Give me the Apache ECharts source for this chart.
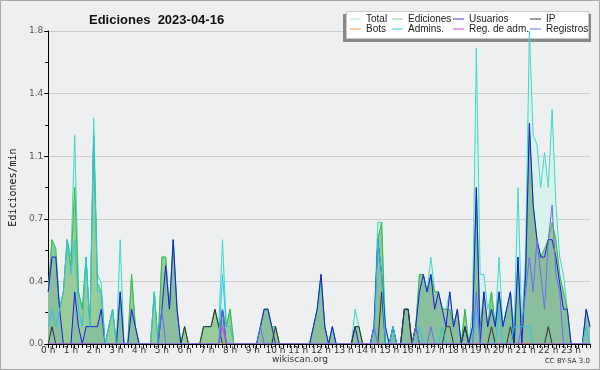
<!DOCTYPE html>
<html>
<head>
<meta charset="utf-8">
<script src="https://cdn.jsdelivr.net/npm/echarts@6/dist/echarts.min.js"></script>
<style>
html, body { margin: 0; padding: 0; background: #eeeff1; }
#ct1 { width: 600px; height: 370px; }
</style>
</head>
<body>
<div id="ct1"></div>
<script>
// etiquetas del eje x (una por hora, 6 tramos de 10 min por hora)
var hours = ['0 h','1 h','2 h','3 h','4 h','5 h','6 h','7 h','8 h','9 h','10 h','11 h',
             '12 h','13 h','14 h','15 h','16 h','17 h','18 h','19 h','20 h','21 h','22 h','23 h'];
var yTicks = [0, 0.36, 0.72, 1.08, 1.44, 1.8];

// ediciones/min por tramo de 10 min
var total = [
    0.3,0.6,0.5,0.2,0.3,0.6, 0.5,1.2,0.3,0.2,0.5,0.1,
    1.3,0.4,0.35,0,0.1,0.2, 0,0.6,0,0,0.4,0.1,
    0,0,0,0,0.3,0, 0.5,0.5,0.2,0.6,0.2,0,
    0.1,0,0,0,0,0.1, 0.1,0.1,0.2,0.1,0.6,0.1,
    0.2,0,0,0,0,0, 0,0,0.1,0.2,0.2,0.1,
    0.1,0,0,0,0,0, 0,0,0,0,0.1,0.2,
    0.4,0.1,0,0.1,0,0, 0,0,0,0.2,0.1,0,
    0,0,0.1,0.7,0.7,0.1, 0,0.1,0,0,0.2,0.2,
    0,0.1,0.4,0.4,0.3,0.5, 0.3,0.3,0.2,0.2,0.3,0.1,
    0.2,0,0.2,0,0.2,1.7, 0.4,0.4,0.2,0.3,0.1,0.5,
    0.1,0.2,0.3,0.1,0.9,0.1, 0.5,1.8,1.2,1.15,0.9,1.1,
    0.9,1.35,0.8,0.5,0.4,0.2, 0,0,0,0,0.2,0.1
];
var ediciones = [
    0.3,0.6,0.55,0.2,0.3,0.6, 0.45,0.9,0.3,0.2,0.5,0.1,
    1.2,0.35,0.3,0,0.1,0.2, 0,0.3,0,0,0.4,0.1,
    0,0,0,0,0.3,0, 0.5,0.5,0.2,0.6,0.2,0,
    0.1,0,0,0,0,0.1, 0.1,0.1,0.2,0.1,0.2,0.1,
    0.2,0,0,0,0,0, 0,0,0.1,0.2,0.2,0.1,
    0.1,0,0,0,0,0, 0,0,0,0,0.1,0.2,
    0.4,0.1,0,0.1,0,0, 0,0,0,0.1,0.1,0,
    0,0,0.1,0.6,0.7,0, 0,0.1,0,0,0.2,0.2,
    0,0.1,0.4,0.4,0.3,0.4, 0.3,0.3,0.2,0.2,0.2,0.1,
    0.2,0,0.2,0,0.1,0.9, 0.1,0.3,0.1,0.3,0.1,0.3,
    0.1,0.2,0.3,0,0.5,0, 0.4,1.25,0.8,0.6,0.5,0.55,
    0.6,0.7,0.6,0.4,0.3,0.2, 0,0,0,0,0.2,0.1
];
var usuarios = [
    0.3,0.5,0.5,0.2,0,0, 0,0.3,0.1,0,0.1,0.1,
    0.1,0.1,0.2,0,0,0, 0,0.3,0,0,0.2,0.1,
    0,0,0,0,0,0, 0.2,0.45,0.2,0.6,0.2,0,
    0,0,0,0,0,0, 0,0,0,0,0.2,0,
    0,0,0,0,0,0, 0,0,0.1,0.2,0.2,0.1,
    0,0,0,0,0,0, 0,0,0,0,0.1,0.2,
    0.4,0.1,0,0.1,0,0, 0,0,0,0.1,0,0,
    0,0,0.1,0.6,0.4,0.1, 0,0.1,0,0,0.2,0.2,
    0,0.1,0.3,0.4,0.3,0.4, 0.2,0.3,0.2,0.1,0.3,0.1,
    0.2,0,0.1,0,0.1,0.9, 0,0.3,0.1,0.2,0.1,0.3,
    0.1,0.2,0.3,0,0.5,0, 0.4,1.27,0.8,0.6,0.5,0.5,
    0.6,0.6,0.5,0.35,0.2,0.2, 0,0,0,0,0.2,0.1
];
var ip = [
    0,0.1,0,0,0,0, 0,0,0,0,0,0,
    0,0,0,0,0,0, 0,0,0,0,0,0,
    0,0,0,0,0,0, 0,0,0,0,0,0,
    0.1,0,0,0,0,0.1, 0.1,0.1,0.2,0.1,0,0,
    0,0,0,0,0,0, 0,0,0,0,0,0,
    0.1,0,0,0,0,0, 0,0,0,0,0,0,
    0,0,0,0,0,0, 0,0,0,0.1,0.1,0,
    0,0,0,0,0.3,0, 0,0,0,0,0.2,0.2,
    0,0.1,0,0,0,0, 0,0,0,0.1,0.1,0,
    0,0,0.1,0,0,0, 0,0,0,0.1,0,0,
    0,0,0.1,0,0,0, 0,0,0,0,0,0,
    0.1,0,0,0,0,0, 0,0,0,0,0,0
];
var bots = [
    0,0,0,0,0,0, 0,0,0,0,0,0, 0,0,0,0,0,0, 0,0,0,0,0,0,
    0,0,0,0,0,0, 0,0,0,0,0,0, 0,0,0,0,0,0, 0,0,0,0,0,0,
    0,0,0,0,0,0, 0,0,0,0,0,0, 0,0,0,0,0,0, 0,0,0,0,0,0,
    0,0,0,0,0,0, 0,0,0,0,0,0, 0,0,0,0,0,0, 0,0,0,0,0,0,
    0,0,0,0,0,0, 0,0,0,0,0,0, 0,0,0,0,0,0, 0,0,0,0,0,0,
    0,0,0,0,0,0, 0,0,0,0,0,0, 0,0,0,0,0,0, 0,0,0,0,0,0
];
var admins = [
    0.1,0.2,0.1,0.2,0.3,0.6, 0.4,0.6,0.2,0.1,0.5,0.1,
    1.2,0.3,0.3,0,0.1,0.2, 0,0,0,0,0,0,
    0,0,0,0,0.3,0, 0,0,0,0,0,0,
    0,0,0,0,0,0, 0,0,0,0,0.4,0.1,
    0.1,0,0,0,0,0, 0,0,0,0,0,0,
    0,0,0,0,0,0, 0,0,0,0,0,0,
    0,0,0,0,0,0, 0,0,0,0,0,0,
    0,0,0,0.6,0.4,0, 0,0.1,0,0,0,0,
    0,0,0.1,0,0,0, 0,0,0.1,0,0,0,
    0,0,0,0,0,0.2, 0,0,0,0,0,0.2,
    0,0,0,0.1,0.1,0.1, 0.1,0.1,0,0,0,0,
    0,0,0,0,0,0, 0,0,0,0,0.1,0
];
var regAdm = [
    0,0,0,0,0,0, 0,0,0,0,0,0, 0,0,0,0,0,0, 0,0,0,0,0,0,
    0,0,0,0,0,0, 0,0,0,0,0,0, 0,0,0,0,0,0, 0,0,0,0,0.1,0,
    0,0,0,0,0,0, 0,0,0,0,0,0, 0,0,0,0,0,0, 0,0,0,0,0,0,
    0,0,0,0,0,0, 0,0,0,0,0,0, 0,0,0,0,0,0, 0,0,0,0,0,0,
    0,0,0,0,0,0, 0,0,0,0,0,0, 0,0,0,0,0,0, 0,0,0,0,0,0,
    0,0,0,0,0,0, 0,0,0,0,0,0, 0,0,0,0,0,0, 0,0,0,0,0,0
];
var registros = [
    0,0,0,0,0,0, 0,0,0,0,0,0,
    0,0,0,0,0,0, 0,0,0,0,0,0,
    0,0,0,0,0,0, 0.2,0,0,0,0,0,
    0,0,0,0,0,0, 0,0,0,0,0.2,0,
    0,0,0,0,0,0, 0,0,0.1,0,0,0,
    0,0,0,0,0,0, 0,0,0,0,0,0,
    0,0,0,0,0,0, 0,0,0,0,0,0,
    0,0,0.1,0,0,0, 0,0,0,0,0,0,
    0,0.1,0,0,0,0.1, 0,0,0,0,0,0,
    0,0,0,0,0,0.3, 0,0,0,0,0,0,
    0,0,0,0,0,0.1, 0.3,0.5,0.3,0.6,0.4,0.2,
    0.6,0.8,0.4,0.3,0,0, 0,0,0,0,0,0
];

var slots = [];
hours.forEach(function (h) {
    for (var k = 0; k < 6; k++) {
        slots.push(k === 0 ? h : h + '_' + k);
    }
});

function area(id, data, fill) {
    return {
        name: id, type: 'line', data: data, symbol: 'none', silent: true,
        lineStyle: {width: 0, opacity: 0},
        areaStyle: {color: fill, opacity: 1},
        z: 1
    };
}
function line(name, data, color, legendColor) {
    return {
        name: name, type: 'line', data: data, symbol: 'none', showSymbol: false,
        lineStyle: {width: 1, color: color},
        itemStyle: {color: legendColor || color},
        z: 3
    };
}

var legendBase = {
    orient: 'vertical', top: 14, itemGap: 0, itemWidth: 11, itemHeight: 1,
    icon: 'rect', selectedMode: false, padding: 0, z: 6,
    textStyle: {fontFamily: 'Liberation Sans', fontSize: 10, color: '#222', lineHeight: 10, padding: [0, 0, 0, 0]}
};
function legendCol(x, names) {
    return Object.assign({}, legendBase, {left: x, data: names});
}

var option1 = {
    animation: false,
    backgroundColor: '#eeeff1',
    title: {
        text: 'Ediciones  2023-04-16', left: 84, top: 9,
        textStyle: {fontFamily: 'Liberation Sans', fontWeight: 'bold', fontSize: 13, color: '#111'}
    },
    legend: [
        legendCol(350, ['Total', 'Bots']),
        legendCol(392, ['Ediciones', 'Admins.']),
        legendCol(453, ['Usuarios', 'Reg. de adm.']),
        legendCol(530, ['IP', 'Registros'])
    ],
    grid: {left: 46, right: 10, top: 31, bottom: 26},
    xAxis: {
        type: 'category', data: slots, boundaryGap: false, z: 10,
        axisLine: {lineStyle: {color: '#000', width: 1}},
        axisTick: {interval: 0, length: 4, lineStyle: {color: '#000'}},
        axisLabel: {
            interval: 5, margin: 2, fontFamily: 'DejaVu Sans', fontSize: 9, color: '#333',
            formatter: function (v) { return v.split('_')[0]; }
        },
        splitLine: {show: false}
    },
    yAxis: {
        type: 'value', min: yTicks[0], max: yTicks[yTicks.length - 1], interval: yTicks[1],
        name: 'Ediciones/min', nameLocation: 'middle', nameGap: 30,
        nameTextStyle: {fontFamily: 'DejaVu Sans Mono', fontSize: 10, color: '#111'},
        axisLine: {show: true, lineStyle: {color: '#000'}},
        axisTick: {show: true, length: 4, lineStyle: {color: '#000'}},
        minorTick: {show: true, splitNumber: 2, length: 3, lineStyle: {color: '#000'}},
        axisLabel: {
            margin: 5, fontFamily: 'DejaVu Sans', fontSize: 9, color: '#555',
            formatter: function (v) { return v.toFixed(1); }
        },
        splitLine: {lineStyle: {color: '#cccccc', width: 1}}
    },
    graphic: [
        {type: 'rect', shape: {x: 0.5, y: 0.5, width: 599, height: 369}, style: {fill: 'none', stroke: '#a8a8a8'}, z: 0},
        {type: 'rect', shape: {x: 343, y: 14, width: 248, height: 28}, style: {fill: '#888'}, z: 2},
        {type: 'rect', shape: {x: 346.5, y: 11.5, width: 242, height: 27}, style: {fill: '#fff', stroke: '#c8c8c8'}, z: 2},
        {type: 'text', left: 'center', top: 355, z: 30,
            style: {text: 'wikiscan.org', font: '9px "DejaVu Sans"', fill: '#333'}},
        {type: 'text', right: 10, top: 358, z: 30,
            style: {text: 'CC BY-SA 3.0', font: '7px "DejaVu Sans"', fill: '#333'}}
    ],
    series: [
        area('_total', total, '#d9f2eb'),
        area('_ediciones', ediciones, '#99cc99'),
        area('_usuarios', usuarios, 'rgba(20,90,200,0.11)'),
        line('Total', total, '#3ed8c8', '#aee8e0'),
        line('Ediciones', ediciones, '#40b840', '#88d888'),
        line('Usuarios', usuarios, '#1a1ae0', '#3a3ae0'),
        line('IP', ip, '#333333'),
        line('Bots', bots, '#f5a030'),
        line('Admins.', admins, '#30c4e4'),
        line('Reg. de adm.', regAdm, '#d040d8'),
        line('Registros', registros, '#6c6cf2')
    ]
};

var myChart1;
function initMyChar1() {
    if (myChart1 && myChart1.dispose) {
        myChart1.dispose();
    }
    myChart1 = echarts.init(document.getElementById('ct1'));
    myChart1.setOption(option1, true);
}
initMyChar1();
</script>
</body>
</html>
